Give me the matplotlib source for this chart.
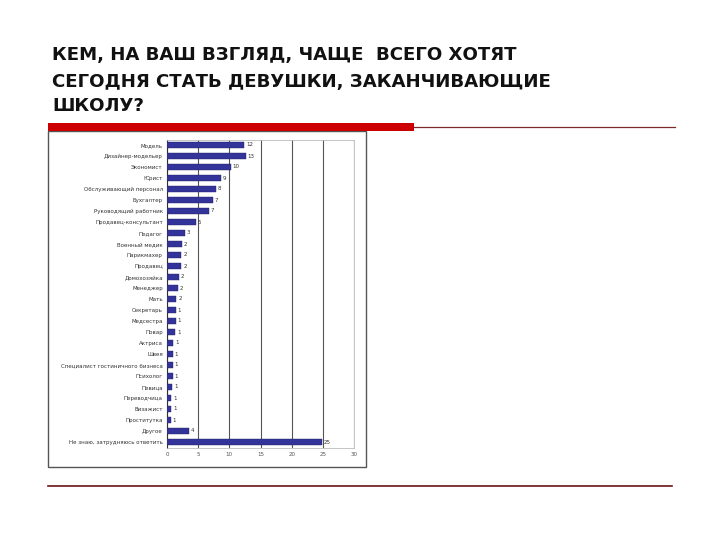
import matplotlib
matplotlib.use("Agg")
import matplotlib.pyplot as plt
from matplotlib.patches import Rectangle
from matplotlib.lines import Line2D

categories = [
    "Модель", "Дизайнер-модельер", "Экономист", "Юрист",
    "Обслуживающий персонал", "Бухгалтер", "Руководящий работник",
    "Продавец-консультант", "Педагог", "Военный медик", "Парикмахер",
    "Продавец", "Домохозяйка", "Менеджер", "Мать", "Секретарь",
    "Медсестра", "Повар", "Актриса", "Швея",
    "Специалист гостиничного бизнеса", "Психолог",
    "Певица", "Переводчица", "Визажист", "Проститутка", "Другое",
    "Не знаю, затрудняюсь ответить",
]
values = [12.4, 12.6, 10.2, 8.6, 7.8, 7.3, 6.7, 4.6, 2.9, 2.4, 2.3, 2.3,
          1.9, 1.8, 1.5, 1.4, 1.4, 1.3, 1.0, 0.9, 0.9, 0.9, 0.8, 0.7,
          0.7, 0.6, 3.5, 24.9]
xticks = [0, 5, 10, 15, 20, 25, 30]
title_lines = ["КЕМ, НА ВАШ ВЗГЛЯД, ЧАЩЕ  ВСЕГО ХОТЯТ",
               "СЕГОДНЯ СТАТЬ ДЕВУШКИ, ЗАКАНЧИВАЮЩИЕ",
               "ШКОЛУ?"]

W, H = 720, 540
fig = plt.figure(figsize=(7.2, 5.4), dpi=100)
fig.patch.set_facecolor("white")

def fx(x):
    return x / W

def fy(y):
    return 1 - y / H

# title
for txt, y in zip(title_lines, [55, 82, 106]):
    fig.text(fx(52), fy(y), txt, fontsize=13.1, fontweight="bold",
             family="DejaVu Sans", va="center", ha="left", color="#111111")

# red bar and lines
fig.add_artist(Rectangle((fx(48), fy(131)), fx(414) - fx(48), fy(123) - fy(131),
                         transform=fig.transFigure, facecolor="#cc0000",
                         edgecolor="none"))
fig.add_artist(Line2D([fx(414), fx(675)], [fy(127), fy(127)],
                      transform=fig.transFigure, color="#7a2a2a", lw=0.9))
fig.add_artist(Line2D([fx(48), fx(672)], [fy(486), fy(486)],
                      transform=fig.transFigure, color="#6b1515", lw=1.2))

# chart box
fig.add_artist(Rectangle((fx(48), fy(467)), fx(366) - fx(48), fy(131) - fy(467),
                         transform=fig.transFigure, facecolor="white",
                         edgecolor="#555555", lw=1.0, zorder=0))

ax = fig.add_axes([fx(167), fy(447.5), fx(354) - fx(167), fy(139.5) - fy(447.5)])
n = len(categories)
ypos = list(range(n))
ax.barh(ypos, values, height=0.55, color="#333399", edgecolor="#222266",
        lw=0.3, zorder=3)
ax.set_ylim(n - 0.5, -0.5)
ax.set_xlim(0, 30)
ax.set_yticks(ypos)
ax.set_yticklabels(categories, fontsize=4, color="#333333")
ax.set_xticks(xticks)
ax.set_xticklabels([str(t) for t in xticks], fontsize=4, color="#555555")
ax.tick_params(axis="both", length=0, pad=3)
ax.grid(axis="x", color="#555555", lw=0.8, zorder=0)
for s in ["top", "right", "bottom"]:
    ax.spines[s].set_color("#bbbbbb")
    ax.spines[s].set_linewidth(0.6)
ax.spines["left"].set_color("#333333")
ax.spines["left"].set_linewidth(0.8)
for v, yv in zip(values, ypos):
    ax.text(v + 0.3, yv, f"{round(v):d}", fontsize=4, va="center", ha="left",
            color="#333333", zorder=4)

fig.savefig("out.png", dpi=100, facecolor="white")
